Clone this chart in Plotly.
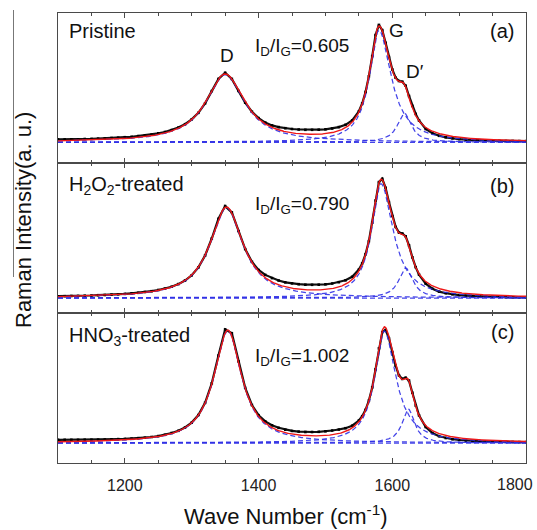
import numpy as np
import plotly.graph_objects as go
from plotly.subplots import make_subplots

# Measured Raman spectra (a.u., baseline-subtracted)
wavenumber = [1100, 1110, 1120, 1130, 1140, 1150, 1160, 1170, 1180, 1190,
              1200, 1210, 1220, 1230, 1240, 1250, 1260, 1270, 1280, 1290,
              1300, 1310, 1320, 1330, 1340, 1350, 1360, 1370, 1380, 1390,
              1400, 1410, 1420, 1430, 1440, 1450, 1460, 1470, 1480, 1490,
              1500, 1510, 1520, 1530, 1540, 1550, 1555, 1560, 1565, 1570,
              1575, 1580, 1585, 1590, 1595, 1600, 1605, 1610, 1615, 1620,
              1625, 1630, 1635, 1640, 1650, 1660, 1670, 1680, 1690, 1700,
              1710, 1720, 1730, 1740, 1750, 1760, 1770, 1780, 1790, 1800]

pristine = [2.9, 2.9, 3.0, 3.0, 3.3, 3.4, 3.7, 3.9, 4.3, 4.6,
            5.1, 5.5, 6.2, 6.9, 7.7, 9.0, 10.3, 12.2, 14.7, 18.1,
            23.0, 29.5, 39.0, 51.2, 63.4, 69.5, 63.4, 51.4, 39.6, 30.6,
            24.2, 19.7, 16.9, 15.2, 14.1, 13.3, 12.8, 12.5, 12.5, 12.6,
            13.0, 13.8, 15.2, 17.5, 21.9, 31.0, 38.8, 50.3, 66.0, 86.2,
            107.3, 117.4, 112.2, 99.5, 85.3, 72.9, 64.6, 61.3, 60.6, 56.6,
            46.3, 36.3, 28.4, 21.8, 13.3, 9.1, 6.5, 5.0, 3.9, 3.2,
            2.7, 2.3, 2.1, 1.8, 1.6, 1.5, 1.3, 1.3, 1.2, 1.2]

h2o2_treated = [1.8, 1.8, 2.0, 2.1, 2.3, 2.5, 2.8, 3.0, 3.4, 3.7,
                4.1, 4.7, 5.2, 6.0, 6.8, 8.0, 9.4, 11.3, 13.9, 17.5,
                22.7, 30.6, 42.5, 59.5, 79.2, 91.9, 85.6, 66.9, 48.9, 36.2,
                28.0, 23.1, 19.9, 17.5, 15.7, 14.6, 13.8, 13.3, 13.2, 13.3,
                13.7, 14.5, 15.8, 17.7, 21.2, 28.4, 34.6, 43.8, 56.9, 75.3,
                97.5, 115.9, 119.2, 110.2, 95.9, 81.9, 71.1, 65.4, 64.5, 61.7,
                52.6, 40.7, 30.8, 23.4, 14.3, 9.3, 6.4, 4.8, 3.7, 2.9,
                2.3, 1.9, 1.6, 1.3, 1.1, 1.0, 0.8, 0.7, 0.7, 0.6]

hno3_treated = [3.2, 3.2, 3.2, 3.2, 3.3, 3.3, 3.4, 3.5, 3.7, 3.9,
                4.1, 4.4, 4.8, 5.3, 6.0, 6.9, 8.2, 10.0, 12.2, 15.5,
                20.4, 28.0, 40.2, 59.7, 87.5, 113.6, 109.8, 81.6, 55.2, 38.0,
                27.8, 21.6, 17.7, 15.2, 13.3, 12.1, 11.4, 11.0, 11.0, 11.2,
                11.7, 12.5, 13.5, 14.8, 17.3, 22.5, 26.8, 33.2, 42.5, 55.6,
                73.7, 94.6, 110.9, 113.0, 104.8, 91.0, 77.3, 67.7, 64.1, 65.3,
                62.4, 50.3, 37.5, 27.7, 16.0, 10.0, 6.8, 5.0, 3.8, 3.0,
                2.4, 2.0, 1.8, 1.6, 1.4, 1.2, 1.1, 1.0, 0.9, 0.9]

spectra = [pristine, h2o2_treated, hno3_treated]
sample_names = ["Pristine", "H<sub>2</sub>O<sub>2</sub>-treated", "HNO<sub>3</sub>-treated"]
panel_tags = ["(a)", "(b)", "(c)"]

# Peak intensity ratio I_D/I_G of the fitted bands
id_ig_ratio = [0.605, 0.790, 1.002]

# Lorentzian fit parameters (cm-1, a.u.)
g_center = [1580, 1583, 1588]
g_hwhm_low = [17, 17, 17]
g_hwhm_high = [22, 22, 21]
g_height = [112.0, 114.3, 112.0]
d_center = [1350, 1352, 1354]
d_fwhm = [70, 60, 50]
dp_center = [1618, 1620, 1624]
dp_fwhm = [25, 25, 22]
dp_height = [29.0, 30.0, 34.0]

# x-axis labels
x_tick_values = [1200, 1400, 1600, 1800]

x_fit = np.linspace(1100, 1800, 1401)


def lorentz(x, c, fwhm, h):
    return h / (1.0 + ((x - c) / (fwhm / 2.0)) ** 2)


def split_lorentz(x, c, hw_lo, hw_hi, h):
    hw = np.where(x < c, hw_lo, hw_hi)
    return h / (1.0 + ((x - c) / hw) ** 2)


# plot area in pixels: x 58..526, y 13..463
L, R, T, B = 58, 526, 13, 463


def px(xp):
    return (xp - L) / (R - L)


def py(yp):
    return (B - yp) / (B - T)


FONT = "Liberation Sans, Arial, Helvetica, sans-serif"
BLUE = "rgb(48,48,230)"
RED = "rgb(238,24,24)"
AX = "#4a4a4a"

fig = make_subplots(rows=3, cols=1, shared_xaxes=True, vertical_spacing=0)

y_ranges = [[-20.7, 129.3], [-15.0, 135.0], [-20.0, 130.0]]

# the label at the right frame edge is placed separately so it stays inside
tick_text = [str(v) for v in x_tick_values[:-1]] + [""]

for i in range(3):
    row = i + 1
    d_height = id_ig_ratio[i] * g_height[i]
    comp_d = lorentz(x_fit, d_center[i], d_fwhm[i], d_height)
    comp_g = split_lorentz(x_fit, g_center[i], g_hwhm_low[i], g_hwhm_high[i], g_height[i])
    comp_dp = lorentz(x_fit, dp_center[i], dp_fwhm[i], dp_height[i])
    total = comp_d + comp_g + comp_dp

    fig.add_trace(go.Scatter(
        x=wavenumber, y=spectra[i], mode="lines+markers",
        line=dict(color="#111111", width=2.2),
        marker=dict(symbol="square", size=2.6, color="#000000"),
        showlegend=False, hoverinfo="skip"), row=row, col=1)

    for comp in (np.zeros_like(x_fit), comp_d, comp_g, comp_dp):
        fig.add_trace(go.Scatter(
            x=x_fit, y=comp, mode="lines",
            line=dict(color=BLUE, width=1.25, dash="5px,3px"),
            opacity=0.9,
            showlegend=False, hoverinfo="skip"), row=row, col=1)

    fig.add_trace(go.Scatter(
        x=x_fit, y=total, mode="lines",
        line=dict(color=RED, width=1.4),
        showlegend=False, hoverinfo="skip"), row=row, col=1)

    fig.update_xaxes(
        row=row, col=1, range=[1100, 1800], showgrid=False, zeroline=False,
        automargin=False,
        showline=True, linecolor=AX, linewidth=1.3, mirror="ticks",
        ticks="inside", ticklen=5, tickwidth=1.2, tickcolor=AX,
        tickmode="array", tickvals=x_tick_values, ticktext=tick_text,
        minor=dict(ticks="inside", tick0=1100, dtick=50, ticklen=3,
                   tickwidth=1, tickcolor=AX),
        showticklabels=(row == 3),
        tickfont=dict(family=FONT, size=16, color="#222222"),
        ticklabelstandoff=8)
    fig.update_yaxes(
        row=row, col=1, range=y_ranges[i], showgrid=False, zeroline=False,
        automargin=False,
        showline=True, linecolor=AX, linewidth=1.3, mirror=True,
        ticks="", showticklabels=False)

annotations = []
title_y = [31, 185, 336]
tag_y = [31, 185.5, 331.5]
ratio_y = [47, 205, 357]
for i in range(3):
    annotations.append(dict(x=px(67), y=py(title_y[i]), xref="paper", yref="paper",
                            text=sample_names[i], showarrow=False,
                            xanchor="left", yanchor="middle",
                            font=dict(family=FONT, size=20, color="#111111")))
    annotations.append(dict(x=px(502), y=py(tag_y[i]), xref="paper", yref="paper",
                            text=panel_tags[i], showarrow=False,
                            xanchor="center", yanchor="middle",
                            font=dict(family=FONT, size=20, color="#111111")))
    annotations.append(dict(x=px(302), y=py(ratio_y[i]), xref="paper", yref="paper",
                            text="I<sub>D</sub>/I<sub>G</sub>=%.3f" % id_ig_ratio[i],
                            showarrow=False, xanchor="center", yanchor="middle",
                            font=dict(family=FONT, size=19, color="#111111")))

for label, xp, yp in (("D", 227, 56), ("G", 396, 30), ("D\u2032", 415, 72)):
    annotations.append(dict(x=px(xp), y=py(yp), xref="paper", yref="paper",
                            text=label, showarrow=False,
                            xanchor="center", yanchor="middle",
                            font=dict(family=FONT, size=19, color="#111111")))

# right-most tick label, right-aligned just inside the page edge
annotations.append(dict(x=px(535), y=py(484), xref="paper", yref="paper",
                        text=str(x_tick_values[-1]), showarrow=False,
                        xanchor="right", yanchor="middle",
                        font=dict(family=FONT, size=16, color="#222222")))

annotations.append(dict(x=px(24), y=py(220), xref="paper", yref="paper",
                        text="Raman Intensity(a. u.)", textangle=-90, showarrow=False,
                        xanchor="center", yanchor="middle",
                        font=dict(family=FONT, size=22, color="#111111")))
annotations.append(dict(x=px(286), y=py(515), xref="paper", yref="paper",
                        text="Wave Number (cm<sup>-1</sup>)", showarrow=False,
                        xanchor="center", yanchor="middle",
                        font=dict(family=FONT, size=22, color="#111111")))

fig.update_layout(
    width=537, height=530,
    margin=dict(l=L, r=537 - R, t=T, b=530 - B, autoexpand=False),
    paper_bgcolor="white", plot_bgcolor="white",
    showlegend=False,
    annotations=annotations,
    shapes=[dict(type="line", xref="paper", yref="paper",
                 x0=px(13.5), x1=px(13.5), y0=py(10), y1=py(277),
                 line=dict(color="#777777", width=1))],
)

fig.write_html("out.html")
